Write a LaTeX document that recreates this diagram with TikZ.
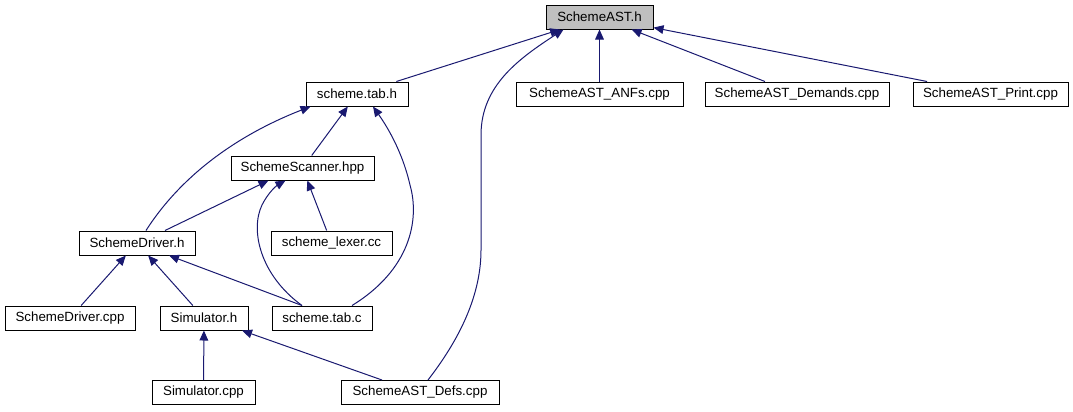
\documentclass[tikz,border=0pt]{standalone}
\usepackage{fontspec}
\setmainfont{Liberation Sans}
\usetikzlibrary{arrows.meta,calc}
\definecolor{edgeblue}{HTML}{191970}
\definecolor{hdrgray}{HTML}{BFBFBF}
\begin{document}
\begin{tikzpicture}[x=0.75pt,y=-0.75pt,
  box/.style={draw=black,line width=0.75pt,fill=white,inner sep=0pt,minimum height=18pt,minimum width=#1*0.75pt,font=\fontsize{10}{12}\selectfont},
  edge/.style={draw=edgeblue,line width=0.75pt,-{Triangle[length=7.5pt,width=6.5pt]}}]
\useasboundingbox (0,0) rectangle (1073,411);
% nodes
\node[box=107,fill=hdrgray] (ast) at (599.5,17) {SchemeAST.h};
\node[box=102] (tabh) at (357,94) {scheme.tab.h};
\node[box=167] (anfs) at (599.5,94) {SchemeAST\_ANFs.cpp};
\node[box=184] (dem) at (797,94) {SchemeAST\_Demands.cpp};
\node[box=155] (prt) at (990.5,94) {SchemeAST\_Print.cpp};
\node[box=143] (scan) at (302.5,168) {SchemeScanner.hpp};
\node[box=116] (drvh) at (137,243) {SchemeDriver.h};
\node[box=121] (lex) at (331.5,243) {scheme\_lexer.cc};
\node[box=130] (drvcpp) at (70,318) {SchemeDriver.cpp};
\node[box=88] (simh) at (204,318) {Simulator.h};
\node[box=100] (tabc) at (322,318) {scheme.tab.c};
\node[box=103] (simcpp) at (203.5,392.5) {Simulator.cpp};
\node[box=158] (defs) at (420,392.5) {SchemeAST\_Defs.cpp};
% edges
\draw[edge] (tabh) -- (ast);
\draw[edge] (anfs) -- (ast);
\draw[edge] (dem) -- (ast);
\draw[edge] (prt) -- (ast);
\draw[edge] ($(defs.north)+(8,0)$) .. controls (455,345) and (481,300) .. (481,250) -- (481,135) .. controls (481,85) and (520,58) .. ($(ast.south west)+(18,0)$);
\draw[edge] (scan) -- (tabh);
\draw[edge] ($(drvh.north)+(9,0)$) .. controls (175,185) and (225,140) .. ($(tabh.south west)+(5,0)$);
\draw[edge] ($(tabc.north)+(30,0)$) .. controls (410,270) and (420,220) .. (410,185) .. controls (402,150) and (386,125) .. ($(tabh.south)+(16,0)$);
\draw[edge] ($(drvh.north)+(28,0)$) -- ($(scan.south west)+(38,0)$);
\draw[edge] ($(tabc.north)+(-20,0)$) .. controls (260,275) and (250,230) .. (262,205) .. controls (268,193) and (276,186) .. ($(scan.south)+(-17,0)$);
\draw[edge] (lex) -- (scan);
\draw[edge] (drvcpp) -- (drvh);
\draw[edge] (simh) -- (drvh);
\draw[edge] ($(tabc.north)+(-20,0)$) -- ($(drvh.south)+(32,0)$);
\draw[edge] (simcpp) -- (simh);
\draw[edge] ($(defs.north)+(-38,0)$) -- ($(simh.south)+(38,0)$);
\end{tikzpicture}
\end{document}
